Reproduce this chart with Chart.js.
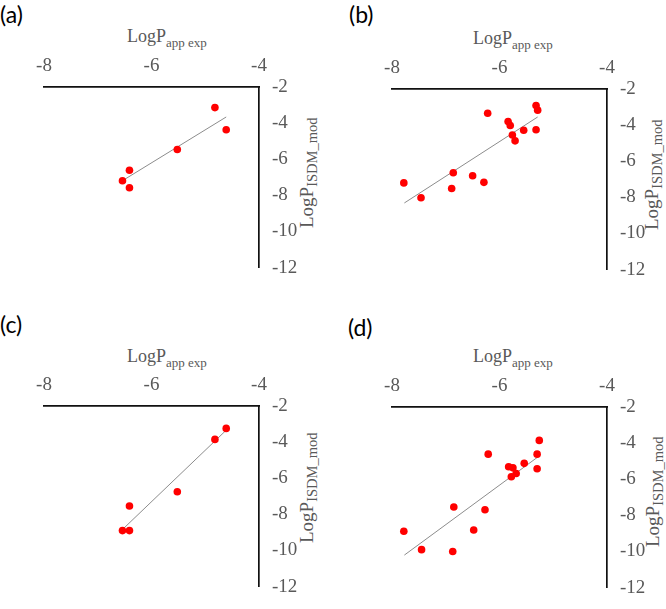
<!DOCTYPE html>
<html>
<head>
<meta charset="utf-8">
<script src="https://cdn.jsdelivr.net/npm/chart.js@4"></script>
<style>
  html, body { margin: 0; padding: 0; background: #fff; overflow: hidden; }
  #wrap { position: relative; width: 666px; height: 609px; }
  canvas { position: absolute; }
  .plabel { position: absolute; font-family: Lato, "Open Sans", sans-serif; font-size: 23px; color: #000; line-height: 1; }
  .xt { position: absolute; font-family: "Liberation Serif", serif; font-size: 18px; color: #595959; line-height: 1; white-space: nowrap; }
  .xt sub { font-size: 13px; vertical-align: -5px; line-height: 1; }
  .yt { position: absolute; font-family: "Liberation Serif", serif; font-size: 19px; color: #595959; line-height: 1; white-space: nowrap; transform-origin: 0 0; transform: rotate(-90deg); }
  .yt sub { font-size: 14.5px; vertical-align: -4px; line-height: 1; }
</style>
</head>
<body>
<div id="wrap"></div>
<script>
// ---- data ----
const panelNames = ["(a)", "(b)", "(c)", "(d)"];
const xTitle = "LogP";
const xTitleSub = "app exp";
const yTitle = "LogP";
const yTitleSub = "ISDM_mod";
const xTicks = [-8, -6, -4];
const yTicks = [-2, -4, -6, -8, -10, -12];

const aX = [-4.82, -4.61, -5.52, -6.41, -6.54, -6.41];
const aY = [-3.14, -4.37, -5.46, -6.61, -7.19, -7.58];
const aFitX = [-6.52, -4.61];
const aFitY = [-7.15, -3.66];

const bX = [-5.32, -5.29, -6.22, -5.84, -5.80, -5.55, -5.32, -5.76, -5.71, -6.86, -6.50, -6.29, -7.78, -6.89, -7.46];
const bY = [-2.92, -3.17, -3.34, -3.80, -4.02, -4.28, -4.26, -4.55, -4.87, -6.64, -6.80, -7.17, -7.20, -7.51, -8.02];
const bFitX = [-7.77, -5.29];
const bFitY = [-8.31, -3.55];

const cX = [-4.61, -4.82, -5.52, -6.41, -6.54, -6.41];
const cY = [-3.24, -3.85, -6.75, -7.54, -8.90, -8.90];
const cFitX = [-6.53, -4.60];
const cFitY = [-8.81, -3.31];

const dX = [-5.26, -5.30, -6.21, -5.54, -5.83, -5.75, -5.30, -5.69, -5.78, -6.85, -6.27, -6.48, -7.78, -7.45, -6.87];
const dY = [-3.85, -4.61, -4.61, -5.12, -5.31, -5.37, -5.42, -5.68, -5.86, -7.54, -7.69, -8.81, -8.88, -9.90, -10.00];
const dFitX = [-7.77, -5.26];
const dFitY = [-10.20, -4.71];

// ---- layout ----
const panels = [
  { name: panelNames[0], xs: aX, ys: aY, fx: aFitX, fy: aFitY, area: [44, 87], lab: [0, 3], xt: [127, 27], yt: [297, 228] },
  { name: panelNames[1], xs: bX, ys: bY, fx: bFitX, fy: bFitY, area: [392, 88.5], lab: [349, 3], xt: [473, 29], yt: [642, 230] },
  { name: panelNames[2], xs: cX, ys: cY, fx: cFitX, fy: cFitY, area: [44, 406], lab: [0, 313], xt: [127, 347], yt: [297, 543] },
  { name: panelNames[3], xs: dX, ys: dY, fx: dFitX, fy: dFitY, area: [392, 406.5], lab: [348, 316], xt: [473, 347], yt: [643, 547] }
];
const AW = 215, AH = 197;
const PADL = 20, TOPH = 34, RIGHTW = 60, PADB = 8;

const wrap = document.getElementById('wrap');
const grey = '#595959';

function build() {
  panels.forEach(p => {
    const lab = document.createElement('div');
    lab.className = 'plabel';
    lab.textContent = p.name;
    lab.style.left = p.lab[0] + 'px'; lab.style.top = p.lab[1] + 'px';
    wrap.appendChild(lab);

    const xt = document.createElement('div');
    xt.className = 'xt';
    xt.innerHTML = xTitle + '<sub>' + xTitleSub + '</sub>';
    xt.style.left = p.xt[0] + 'px'; xt.style.top = p.xt[1] + 'px';
    wrap.appendChild(xt);

    const yt = document.createElement('div');
    yt.className = 'yt';
    yt.innerHTML = yTitle + '<sub>' + yTitleSub + '</sub>';
    yt.style.left = p.yt[0] + 'px'; yt.style.top = p.yt[1] + 'px';
    wrap.appendChild(yt);

    const cv = document.createElement('canvas');
    const W = PADL + AW + RIGHTW, H = TOPH + AH + PADB;
    cv.width = W; cv.height = H;
    cv.style.width = W + 'px'; cv.style.height = H + 'px';
    cv.style.left = (p.area[0] - PADL) + 'px';
    cv.style.top = (p.area[1] - TOPH) + 'px';
    wrap.appendChild(cv);

    new Chart(cv.getContext('2d'), {
      type: 'scatter',
      data: {
        datasets: [
          {
            type: 'line',
            data: p.fx.map((x, i) => ({ x: x, y: p.fy[i] })),
            borderColor: '#8c8c8c', borderWidth: 1, pointRadius: 0, fill: false, order: 2
          },
          {
            type: 'scatter',
            data: p.xs.map((x, i) => ({ x: x, y: p.ys[i] })),
            backgroundColor: '#ff0000', borderWidth: 0, pointRadius: 3.8, order: 1
          }
        ]
      },
      options: {
        responsive: false, animation: false,
        layout: { padding: { left: PADL, top: 0, right: 0, bottom: PADB } },
        plugins: { legend: { display: false }, tooltip: { enabled: false } },
        scales: {
          x: {
            type: 'linear', position: 'top', min: -8, max: -4,
            afterBuildTicks: s => { s.ticks = xTicks.map(v => ({ value: v })); },
            afterFit: s => { s.height = TOPH; },
            grid: { display: false, drawTicks: false },
            border: { display: true, color: '#111', width: 1.7 },
            ticks: { font: { family: 'Liberation Serif', size: 19 }, color: grey, padding: 10, maxRotation: 0 }
          },
          y: {
            type: 'linear', position: 'right', min: -12, max: -2,
            afterBuildTicks: s => { s.ticks = yTicks.map(v => ({ value: v })); },
            afterFit: s => { s.width = RIGHTW; },
            grid: { display: false, drawTicks: false },
            border: { display: true, color: '#111', width: 1.7 },
            ticks: { font: { family: 'Liberation Serif', size: 19 }, color: grey, padding: 13 }
          }
        }
      }
    });
  });
}
Chart.defaults.font.family = 'Liberation Serif';
build();
</script>
</body>
</html>
